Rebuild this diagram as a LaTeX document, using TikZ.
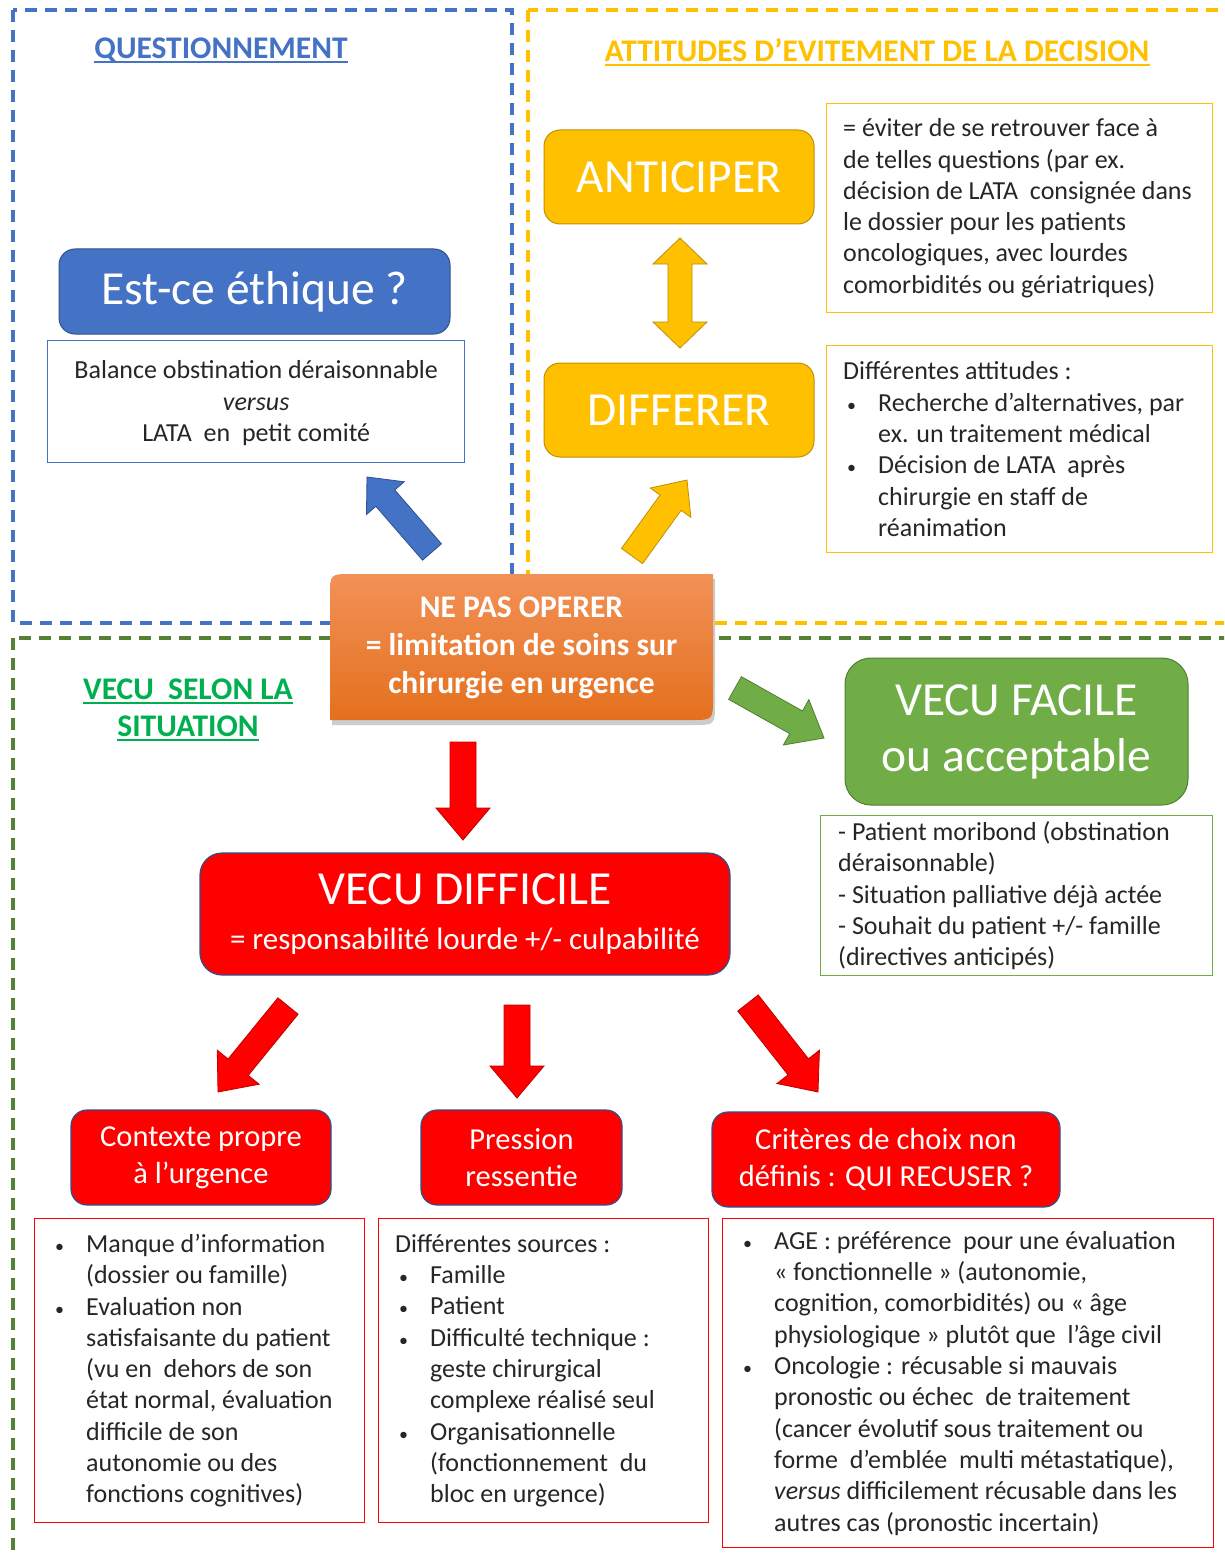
\documentclass[tikz,border=0pt]{standalone}
\usepackage{fontspec}
\setmainfont{Carlito}
\usetikzlibrary{calc,shadows}
\definecolor{qblue}{HTML}{4472C4}
\definecolor{qblueb}{HTML}{2F528F}
\definecolor{agold}{HTML}{FFC000}
\definecolor{agoldb}{HTML}{BF9000}
\definecolor{vgreen}{HTML}{00B050}
\definecolor{fgreen}{HTML}{70AD47}
\definecolor{fgreenb}{HTML}{507E32}
\definecolor{dgreen}{HTML}{548235}
\definecolor{rred}{HTML}{FF0000}
\definecolor{orangetop}{HTML}{F29157}
\definecolor{orangebot}{HTML}{E4701E}
\definecolor{bodyc}{HTML}{262626}
\newcommand\bul{\makebox[35pt][l]{\hspace{4pt}{\fontsize{18}{18}\selectfont\textbullet}}}
\newcommand\ind{\hspace*{35pt}}
\newcommand\blockarrow[6]{%
  \coordinate (bah) at ($(#2)!#5!(#1)$);
  \filldraw[#6] ($(#1)!#3!90:(#2)$) -- ($(bah)!#3!90:(#2)$) -- ($(bah)!#4!90:(#2)$) -- (#2) -- ($(bah)!#4!-90:(#2)$) -- ($(bah)!#3!-90:(#2)$) -- ($(#1)!#3!-90:(#2)$) -- cycle;}
\newcommand\dblarrow[6]{%
  \coordinate (bahA) at ($(#1)!#5!(#2)$);
  \coordinate (bahB) at ($(#2)!#5!(#1)$);
  \filldraw[#6] (#1) -- ($(bahA)!#4!90:(#2)$) -- ($(bahA)!#3!90:(#2)$) -- ($(bahB)!#3!-90:(#1)$) -- ($(bahB)!#4!-90:(#1)$) -- (#2) -- ($(bahB)!#4!90:(#1)$) -- ($(bahB)!#3!90:(#1)$) -- ($(bahA)!#3!-90:(#2)$) -- ($(bahA)!#4!-90:(#2)$) -- cycle;}
\tikzset{
  zone/.style={line width=3.2pt, dash pattern=on 12pt off 8pt},
  title/.style={inner sep=0pt, font=\fontsize{31.5}{37}\selectfont\bfseries},
  ulinestyle/.style={line width=2pt},
  bigbox/.style={rounded corners=16pt, text=white, line width=1pt, font=\fontsize{47.5}{56}\selectfont, align=center},
  redbox/.style={rounded corners=16pt, fill=rred, draw=qblueb, line width=1.2pt, text=white, font=\fontsize{30.5}{37}\selectfont, align=center},
  txtbox/.style={anchor=north west, line width=1.4pt, inner sep=0pt},
  body/.style={anchor=west, inner sep=0pt, align=left, text=bodyc, font=\fontsize{26}{31.3}\selectfont},
  arr/.style={line width=0.8pt}
}
\begin{document}
\begin{tikzpicture}[x=1pt,y=-1pt]
\useasboundingbox (0,0) rectangle (1224,1554);
\clip (0,0) rectangle (1224,1554);
\fill[white] (0,0) rectangle (1224,1554);
% zones
\draw[zone, qblue] (13,10) rectangle (512,623);
\draw[zone, agold] (528,10) rectangle (1240,623);
\draw[zone, dgreen] (13,638) rectangle (1240,1580);
% titles
\node[title, text=qblue] (tq) at (221,50) {QUESTIONNEMENT};
\draw[ulinestyle, qblue] ([yshift=-4pt]tq.base west) -- ([yshift=-4pt]tq.base east);
\node[title, text=agold] (ta) at (877,50) {ATTITUDES D’EVITEMENT DE LA DECISION};
\draw[ulinestyle, agold] ([yshift=-4pt]ta.base west) -- ([yshift=-4pt]ta.base east);
\node[title, text=vgreen] (tv1) at (188,689) {VECU\ \ SELON LA};
\draw[ulinestyle, vgreen] ([yshift=-4pt]tv1.base west) -- ([yshift=-4pt]tv1.base east);
\node[title, text=vgreen] (tv2) at (188,726) {SITUATION};
\draw[ulinestyle, vgreen] ([yshift=-4pt]tv2.base west) -- ([yshift=-4pt]tv2.base east);
% questionnement
\node[bigbox, fill=qblue, draw=qblueb, minimum width=391pt, minimum height=85pt] (ethique) at (254.5,291.5) {Est-ce éthique ?};
\node[txtbox, draw=qblue, minimum width=417pt, minimum height=122pt] (balance) at (47,340) {};
\node[body, anchor=center, align=center] (balancet) at ([yshift=-1.5pt]balance.center) {Balance obstination déraisonnable\\\textit{versus}\\LATA\ \ en\ \ petit comité};
% attitudes
\node[bigbox, fill=agold, draw=agoldb, minimum width=270pt, minimum height=94pt] (antic) at (679,177) {ANTICIPER};
\node[bigbox, fill=agold, draw=agoldb, minimum width=270pt, minimum height=94pt] (differ) at (679,410) {DIFFERER};
\node[txtbox, draw=agold, minimum width=386pt, minimum height=209pt] (gb1) at (826,103) {};
\node[body] (gb1t) at ([xshift=17pt]gb1.west) {= éviter de se retrouver face à\\de telles questions (par ex.\\décision de LATA\ \ consignée dans\\le dossier pour les patients\\oncologiques, avec lourdes\\comorbidités ou gériatriques)};
\node[txtbox, draw=agold, minimum width=386pt, minimum height=207pt] (gb2) at (826,345) {};
\node[body] (gb2t) at ([xshift=17pt]gb2.west) {Différentes attitudes :\\\bul Recherche d’alternatives, par\\\ind ex. un traitement médical\\\bul Décision de LATA\ \ après\\\ind chirurgie en staff de\\\ind réanimation};
% central box
\path[drop shadow={opacity=0.4, shadow xshift=2pt, shadow yshift=-5pt}, top color=orangetop, bottom color=orangebot]
  (713,574) -- (713,698) .. controls (713,720) .. (691,720) -- (330,720) -- (330,596) .. controls (330,574) .. (352,574) -- cycle;
\node[text=white, align=center, font=\fontsize{31.5}{38}\selectfont\bfseries, minimum width=383pt, minimum height=146pt] (nepas) at (521.5,648) {NE PAS OPERER\\= limitation de soins sur\\chirurgie en urgence};
% vecu facile
\node[bigbox, rounded corners=26pt, fill=fgreen, draw=fgreenb, minimum width=343pt, minimum height=147pt] (facile) at (1016.5,731.5) {VECU FACILE\\ou acceptable};
\node[txtbox, draw=fgreen, minimum width=392pt, minimum height=160pt] (fb) at (820,815) {};
\node[body] (fbt) at ([xshift=18pt]fb.west) {- Patient moribond (obstination\\déraisonnable)\\- Situation palliative déjà actée\\- Souhait du patient +/- famille\\(directives anticipés)};
% vecu difficile
\node[redbox, rounded corners=22pt, minimum width=530pt, minimum height=122pt, font=\fontsize{31}{37}\selectfont] (difficile) at (465,914) {{\fontsize{47.5}{50}\selectfont VECU DIFFICILE}\\[8pt]= responsabilité lourde +/- culpabilité};
% three red boxes
\node[redbox, minimum width=260pt, minimum height=95pt] (contexte) at (201,1157.5) {Contexte propre\\à l’urgence};
\node[redbox, minimum width=201pt, minimum height=95pt] (pression) at (521.5,1157.5) {Pression\\ressentie};
\node[redbox, minimum width=348pt, minimum height=95pt] (criteres) at (886,1159.5) {Critères de choix non\\définis : QUI RECUSER ?};
\node[txtbox, draw=rred, minimum width=330pt, minimum height=304pt] (rb1) at (34,1218) {};
\node[body] (rb1t) at ([xshift=17pt]rb1.west) {\bul Manque d’information\\\ind (dossier ou famille)\\\bul Evaluation non\\\ind satisfaisante du patient\\\ind (vu en\ \ dehors de son\\\ind état normal, évaluation\\\ind difficile de son\\\ind autonomie ou des\\\ind fonctions cognitives)};
\node[txtbox, draw=rred, minimum width=330pt, minimum height=304pt] (rb2) at (378,1218) {};
\node[body] (rb2t) at ([xshift=17pt]rb2.west) {Différentes sources :\\\bul Famille\\\bul Patient\\\bul Difficulté technique :\\\ind geste chirurgical\\\ind complexe réalisé seul\\\bul Organisationnelle\\\ind (fonctionnement\ \ du\\\ind bloc en urgence)};
\node[txtbox, draw=rred, minimum width=491pt, minimum height=329pt] (rb3) at (722,1218) {};
\node[body] (rb3t) at ([xshift=17pt]rb3.west) {\bul AGE : préférence\ \ pour une évaluation\\\ind « fonctionnelle » (autonomie,\\\ind cognition, comorbidités) ou « âge\\\ind physiologique » plutôt que\ \ l’âge civil\\\bul Oncologie : récusable si mauvais\\\ind pronostic ou échec\ \ de traitement\\\ind (cancer évolutif sous traitement ou\\\ind forme\ \ d’emblée\ \ multi métastatique),\\\ind \textit{versus} difficilement récusable dans les\\\ind autres cas (pronostic incertain)};
% arrows
\coordinate (abt) at (432,552); \coordinate (abh) at (367,477);
\blockarrow{abt}{abh}{12.5pt}{25pt}{28pt}{arr, fill=qblue, draw=qblueb}
\coordinate (ayt) at (632,556); \coordinate (ayh) at (687,480);
\blockarrow{ayt}{ayh}{13pt}{25pt}{28pt}{arr, fill=agold, draw=agoldb}
\coordinate (ad1) at (680,238); \coordinate (ad2) at (680,348);
\dblarrow{ad1}{ad2}{12pt}{27pt}{26pt}{arr, fill=agold, draw=agoldb}
\coordinate (agt) at (735,688); \coordinate (agh) at (824,738);
\blockarrow{agt}{agh}{13pt}{26pt}{32pt}{arr, fill=fgreen, draw=fgreenb}
\coordinate (art) at (463,742); \coordinate (arh) at (463,840);
\blockarrow{art}{arh}{13pt}{27pt}{32pt}{arr, fill=rred, draw=rred!75!black}
\coordinate (alt) at (288,1006); \coordinate (alh) at (218,1092);
\blockarrow{alt}{alh}{13pt}{27pt}{32pt}{arr, fill=rred, draw=rred!75!black}
\coordinate (amt) at (517,1005); \coordinate (amh) at (517,1098);
\blockarrow{amt}{amh}{13pt}{27pt}{32pt}{arr, fill=rred, draw=rred!75!black}
\coordinate (aqt) at (748,1003); \coordinate (aqh) at (818,1092);
\blockarrow{aqt}{aqh}{13pt}{27pt}{32pt}{arr, fill=rred, draw=rred!75!black}
\end{tikzpicture}
\end{document}
